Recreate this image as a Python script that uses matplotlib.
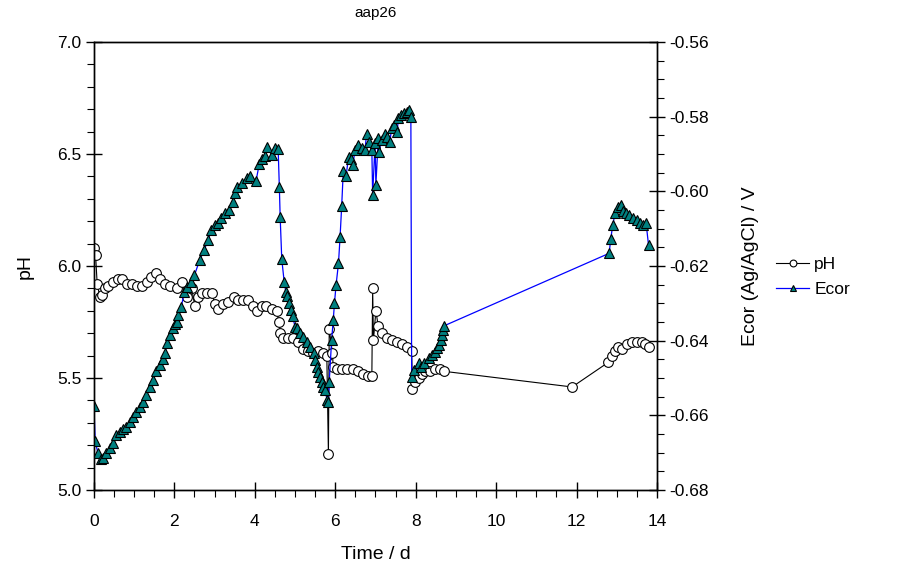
import matplotlib
matplotlib.use('Agg')
import matplotlib.pyplot as plt
from matplotlib.ticker import MultipleLocator

plt.rcParams['font.family'] = ['Liberation Sans', 'DejaVu Sans']

# pH readings
ph_day = [0.00, 0.04, 0.08, 0.15, 0.19, 0.27, 0.36, 0.48, 0.60, 0.69, 0.81, 0.94,
          1.06, 1.19, 1.31, 1.43, 1.54, 1.64, 1.77, 1.89, 2.06, 2.18, 2.31, 2.43,
          2.51, 2.59, 2.68, 2.80, 2.93, 3.01, 3.09, 3.22, 3.34, 3.47, 3.59, 3.71,
          3.84, 3.96, 4.05, 4.17, 4.29, 4.42, 4.54, 4.60, 4.63, 4.71, 4.83, 4.96,
          5.08, 5.21, 5.33, 5.45, 5.58, 5.70, 5.79, 5.83, 5.85, 5.93, 5.95, 6.04,
          6.16, 6.28, 6.45, 6.57, 6.70, 6.82, 6.91, 6.93, 6.95, 7.01, 7.07, 7.15,
          7.28, 7.40, 7.53, 7.65, 7.78, 7.90, 7.92, 7.98, 8.07, 8.15, 8.23, 8.36,
          8.48, 8.60, 8.70, 11.89, 12.79, 12.87, 12.96, 13.04, 13.12, 13.25, 13.37,
          13.50, 13.62, 13.70, 13.79]
ph = [6.08, 6.05, 5.92, 5.86, 5.87, 5.90, 5.91, 5.93, 5.94, 5.94, 5.92, 5.92,
      5.91, 5.91, 5.93, 5.95, 5.97, 5.94, 5.92, 5.91, 5.90, 5.93, 5.86, 5.90,
      5.82, 5.86, 5.88, 5.88, 5.88, 5.83, 5.81, 5.83, 5.84, 5.86, 5.85, 5.85,
      5.85, 5.82, 5.80, 5.82, 5.82, 5.81, 5.80, 5.75, 5.70, 5.68, 5.68, 5.68,
      5.66, 5.63, 5.62, 5.61, 5.62, 5.61, 5.60, 5.16, 5.72, 5.61, 5.55, 5.54,
      5.54, 5.54, 5.54, 5.53, 5.52, 5.51, 5.51, 5.90, 5.67, 5.80, 5.73, 5.70,
      5.68, 5.67, 5.66, 5.65, 5.64, 5.62, 5.45, 5.48, 5.50, 5.52, 5.53, 5.53,
      5.54, 5.54, 5.53, 5.46, 5.57, 5.60, 5.62, 5.64, 5.63, 5.65, 5.66,
      5.66, 5.66, 5.65, 5.64]

# corrosion potential readings (V vs Ag/AgCl)
ecor_day = [0.00, 0.03, 0.10, 0.17, 0.22, 0.31, 0.39, 0.47, 0.55, 0.64, 0.72, 0.80,
            0.89, 0.97, 1.05, 1.14, 1.22, 1.30, 1.39, 1.47, 1.55, 1.63, 1.72, 1.77,
            1.82, 1.88, 1.96, 2.02, 2.07, 2.10, 2.17, 2.25, 2.32, 2.42, 2.50, 2.63,
            2.74, 2.84, 2.92, 3.00, 3.08, 3.17, 3.25, 3.37, 3.46, 3.51, 3.55, 3.67,
            3.80, 3.88, 4.03, 4.11, 4.17, 4.25, 4.31, 4.42, 4.50, 4.58, 4.61, 4.63,
            4.67, 4.73, 4.77, 4.81, 4.85, 4.89, 4.94, 5.00, 5.04, 5.12, 5.21, 5.29,
            5.37, 5.46, 5.50, 5.54, 5.58, 5.62, 5.66, 5.70, 5.74, 5.80, 5.83, 5.85,
            5.91, 5.95, 5.98, 6.02, 6.08, 6.12, 6.16, 6.20, 6.27, 6.33, 6.39, 6.44,
            6.49, 6.57, 6.66, 6.74, 6.78, 6.85, 6.91, 6.93, 6.99, 7.01, 7.07, 7.09,
            7.15, 7.24, 7.29, 7.36, 7.40, 7.46, 7.54, 7.57, 7.63, 7.71, 7.78, 7.84,
            7.88, 7.90, 7.96, 8.07, 8.12, 8.20, 8.32, 8.40, 8.48, 8.54, 8.59, 8.62,
            8.65, 8.67, 8.71, 12.81, 12.85, 12.90, 12.96, 13.04, 13.10, 13.16, 13.23,
            13.31, 13.40, 13.50, 13.58, 13.66, 13.73, 13.79]
ecor = [-0.6575, -0.6669, -0.6702, -0.6717, -0.6715, -0.6700, -0.6688, -0.6675,
        -0.6653, -0.6644, -0.6637, -0.6630, -0.6617, -0.6604, -0.6590, -0.6577,
        -0.6564, -0.6546, -0.6523, -0.6505, -0.6480, -0.6465, -0.6450, -0.6432,
        -0.6407, -0.6385, -0.6367, -0.6354, -0.6349, -0.6331, -0.6309, -0.6269,
        -0.6255, -0.6242, -0.6224, -0.6184, -0.6157, -0.6130, -0.6104, -0.6090,
        -0.6086, -0.6072, -0.6059, -0.6050, -0.6028, -0.6005, -0.5988, -0.5978,
        -0.5965, -0.5959, -0.5972, -0.5927, -0.5912, -0.5905, -0.5882, -0.5903,
        -0.5885, -0.5887, -0.5989, -0.6068, -0.6182, -0.6242, -0.6269, -0.6280,
        -0.6300, -0.6318, -0.6334, -0.6363, -0.6367, -0.6380, -0.6389, -0.6403,
        -0.6416, -0.6434, -0.6452, -0.6470, -0.6483, -0.6497, -0.6510, -0.6523,
        -0.6532, -0.6559, -0.6563, -0.6510, -0.6398, -0.6345, -0.6300, -0.6251,
        -0.6193, -0.6122, -0.6039, -0.5945, -0.5959, -0.5907, -0.5912, -0.5929,
        -0.5889, -0.5876, -0.5885, -0.5889, -0.5845, -0.5867, -0.5889, -0.6010,
        -0.5871, -0.5983, -0.5858, -0.5894, -0.5862, -0.5845, -0.5854, -0.5867,
        -0.5831, -0.5822, -0.5840, -0.5804, -0.5796, -0.5791, -0.5787, -0.5782,
        -0.5802, -0.6497, -0.6479, -0.6461, -0.6470, -0.6461, -0.6447, -0.6438,
        -0.6430, -0.6420, -0.6412, -0.6398, -0.6385, -0.6371, -0.6360, -0.6166,
        -0.6128, -0.6090, -0.6057, -0.6041, -0.6037, -0.6052, -0.6059, -0.6063,
        -0.6072, -0.6077, -0.6084, -0.6090, -0.6086, -0.6144]

fig = plt.figure(figsize=(9.14, 5.76), dpi=100)
ax = fig.add_axes([0.1028, 0.1493, 0.616, 0.7777])

l1, = ax.plot(ph_day, ph, color='black', lw=0.8, marker='o', ms=7,
              mfc='white', mec='black', mew=0.8, label='pH')
ax.set_xlim(0, 14)
ax.set_ylim(5.0, 7.0)
ax.xaxis.set_major_locator(MultipleLocator(2))
ax.xaxis.set_minor_locator(MultipleLocator(0.5))
ax.yaxis.set_major_locator(MultipleLocator(0.5))
ax.yaxis.set_minor_locator(MultipleLocator(0.1))
ax.yaxis.set_major_formatter(plt.FormatStrFormatter('%.1f'))
ax.tick_params(which='major', direction='inout', length=11, width=1, labelsize=12.5,
               top=False)
ax.tick_params(axis='x', which='major', pad=12)
ax.tick_params(which='minor', direction='out', length=5, width=0.8, top=False)
ax.set_xlabel('Time / d', fontsize=14, labelpad=12)
ax.set_ylabel('pH', fontsize=14, labelpad=17)
ax.set_title('aap26', fontsize=11, pad=18)

ax2 = ax.twinx()
l2, = ax2.plot(ecor_day, ecor, color='blue', lw=0.9, marker='^', ms=7,
               mfc='#008080', mec='black', mew=0.8, label='Ecor')
ax2.set_ylim(-0.68, -0.56)
ax2.yaxis.set_major_locator(MultipleLocator(0.02))
ax2.yaxis.set_minor_locator(MultipleLocator(0.005))
ax2.yaxis.set_major_formatter(plt.FormatStrFormatter('%.2f'))
ax2.tick_params(which='major', direction='inout', length=11, width=1, labelsize=12.5)
ax2.tick_params(which='minor', direction='out', length=5, width=0.8)
ax2.set_ylabel('Ecor (Ag/AgCl) / V', fontsize=14, labelpad=24)

for a in (ax, ax2):
    for s in a.spines.values():
        s.set_linewidth(1)

fig.legend([l1, l2], ['pH', 'Ecor'], loc='center left',
           bbox_to_anchor=(0.832, 0.519), frameon=False, fontsize=12.5,
           handlelength=1.9, markerscale=0.7, labelspacing=0.6, handletextpad=0.3)

fig.savefig('out.png', dpi=100)
